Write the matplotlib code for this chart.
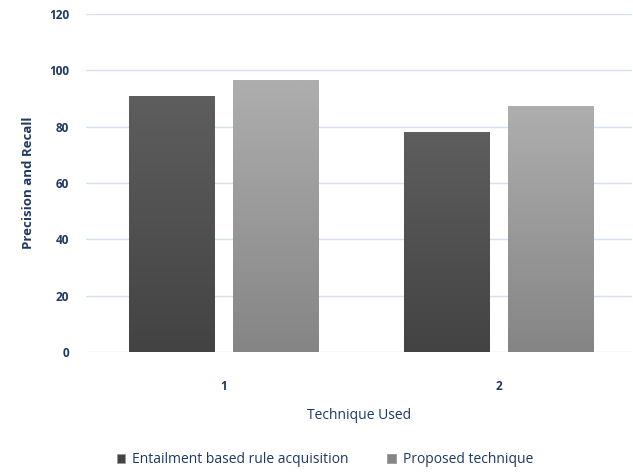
import numpy as np
import matplotlib
matplotlib.use("Agg")
import matplotlib.pyplot as plt
from matplotlib.colors import LinearSegmentedColormap

categories = ["1", "2"]
series_names = ["Entailment based rule acquisition", "Proposed technique"]
entailment = [91, 78]
proposed = [96.5, 87.5]
yticks = [0, 20, 40, 60, 80, 100, 120]

text_col = "#1f3864"
grid_col = "#d6e0f0"
# (top colour, bottom colour) of the gradient in each series
grads = [("#5e5e5e", "#434343"), ("#aeaeae", "#858585")]

plt.rcParams["font.family"] = ["Open Sans", "DejaVu Sans"]

fig = plt.figure(figsize=(6.33, 4.73), dpi=100)
ax = fig.add_axes([86 / 633, 121 / 473, 546 / 633, 338 / 473])

x = np.arange(1, len(categories) + 1)
width = 0.31
offsets = [-0.19, 0.19]

for vals, off, (ctop, cbot), name in zip([entailment, proposed], offsets, grads, series_names):
    cmap = LinearSegmentedColormap.from_list("g", [cbot, ctop])
    bars = ax.bar(x + off, vals, width, color=cbot, edgecolor="#9a9a9a", linewidth=0.6,
                  label=name, zorder=2)
    for b in bars:
        x0, y0 = b.get_x(), b.get_y()
        w, h = b.get_width(), b.get_height()
        grad = np.linspace(0, 1, 256).reshape(-1, 1)
        im = ax.imshow(grad, cmap=cmap, origin="lower", aspect="auto",
                       extent=[x0, x0 + w, y0, y0 + h], zorder=2.5)
        im.set_clip_path(b)

ax.set_xlim(0.5, 2.485)
ax.set_ylim(0, 120)
ax.set_yticks(yticks)
ax.set_xticks(x)
ax.set_xticklabels(categories)
ax.grid(axis="y", color=grid_col, linewidth=1.0, zorder=0)
ax.set_axisbelow(True)
for s in ax.spines.values():
    s.set_visible(False)
ax.tick_params(length=0, labelsize=8.5, colors=text_col, pad=12)
ax.tick_params(axis="x", pad=20)
for lab in ax.get_xticklabels() + ax.get_yticklabels():
    lab.set_fontweight("bold")

ax.set_ylabel("Precision and Recall", fontsize=9.5, fontweight="bold", color=text_col, labelpad=10)
ax.set_xlabel("Technique Used", fontsize=10, color=text_col, labelpad=11)

handles, labels = ax.get_legend_handles_labels()
leg = fig.legend(handles, labels, loc="center", bbox_to_anchor=(0.513, 0.028), ncol=2,
                 frameon=False, fontsize=10, handlelength=0.6, handleheight=0.6,
                 columnspacing=2.8, handletextpad=0.5)
for t in leg.get_texts():
    t.set_color(text_col)

fig.savefig("out.png", dpi=100)
